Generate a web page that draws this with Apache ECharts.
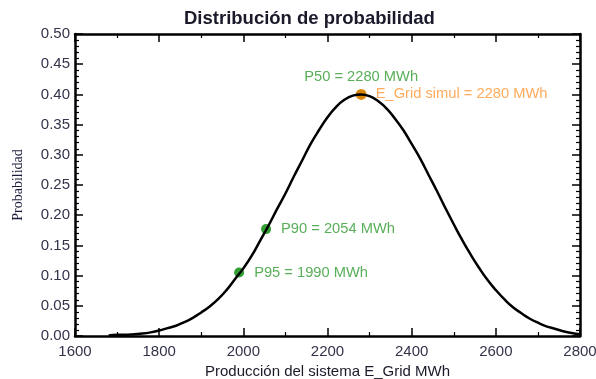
<!DOCTYPE html>
<html>
<head>
<meta charset="utf-8">
<script src="https://cdn.jsdelivr.net/npm/echarts@6/dist/echarts.min.js"></script>
<style>html,body{margin:0;padding:0;background:#fff;}#c{width:596px;height:379px;}</style>
</head>
<body>
<div id="c"></div>
<script>
// Curve
const energy = [1680,1700,1720,1740,1760,1780,1800,1820,1840,1860,1880,1900,1920,1940,1960,1980,2000,2020,2040,2060,2080,2100,2120,2140,2160,2180,2200,2220,2240,2260,2280,2300,2320,2340,2360,2380,2400,2420,2440,2460,2480,2500,2520,2540,2560,2580,2600,2620,2640,2660,2680,2700,2720,2740,2760,2780,2800];
const probability = [0.001,0.002,0.002,0.003,0.004,0.006,0.009,0.013,0.017,0.023,0.030,0.039,0.049,0.061,0.076,0.094,0.112,0.133,0.158,0.183,0.210,0.236,0.264,0.291,0.318,0.341,0.362,0.379,0.391,0.398,0.400,0.397,0.389,0.377,0.360,0.341,0.318,0.294,0.267,0.240,0.212,0.185,0.159,0.135,0.113,0.093,0.076,0.061,0.048,0.038,0.029,0.022,0.016,0.012,0.008,0.005,0.003];
// Marked points
const p95 = [1990, 0.105];
const p90 = [2054, 0.177];
const p50 = [2280, 0.400];
const labelP95 = 'P95 = 1990 MWh';
const labelP90 = 'P90 = 2054 MWh';
const labelP50 = 'P50 = 2280 MWh';
const labelSim = 'E_Grid simul = 2280 MWh';
const xTicks = {min: 1600, max: 2800, interval: 200};
const yTicks = {min: 0, max: 0.5, interval: 0.05};

const chart = echarts.init(document.getElementById('c'), null, {renderer: 'canvas'});
const font = 'Liberation Sans, Arial, sans-serif';
const green = '#2f9a2f';
const greenMark = '#008800';
const orange = '#ff9633';
const orangeMark = '#ff8000';
const tick = {show: true, inside: true, length: 8, lineStyle: {color: '#000', width: 1.5}};
const axLine = {show: true, onZero: false, lineStyle: {color: '#000', width: 2.5}};

chart.setOption({
  animation: false,
  backgroundColor: '#fff',
  title: {
    text: 'Distribución de probabilidad',
    left: 179, top: 4,
    textStyle: {fontFamily: font, fontSize: 18.5, fontWeight: 'bold', color: '#1a1a2a'}
  },
  grid: {left: 75, right: 16, top: 34, bottom: 43, containLabel: false, outerBoundsMode: 'none'},
  xAxis: [{
    type: 'value', position: 'bottom', min: xTicks.min, max: xTicks.max, interval: xTicks.interval,
    axisLine: axLine, axisTick: tick,
    minorTick: {show: true, splitNumber: 2, length: 4, lineStyle: {color: '#000', width: 1.2}},
    splitLine: {show: false},
    axisLabel: {margin: 8, fontFamily: font, fontSize: 15, color: '#33334a', formatter: v => String(v)},
    name: 'Producción del sistema E_Grid MWh', nameLocation: 'middle', nameGap: 25,
    nameTextStyle: {fontFamily: font, fontSize: 15, color: '#1a1a2a'}
  }, {
    type: 'value', position: 'top', min: xTicks.min, max: xTicks.max, interval: xTicks.interval,
    axisLine: axLine, axisTick: tick,
    minorTick: {show: true, splitNumber: 2, length: 4, lineStyle: {color: '#000', width: 1.2}},
    splitLine: {show: false}, axisLabel: {show: false}
  }],
  yAxis: [{
    type: 'value', position: 'left', min: yTicks.min, max: yTicks.max, interval: yTicks.interval,
    axisLine: axLine, axisTick: tick,
    minorTick: {show: true, splitNumber: 5, length: 4, lineStyle: {color: '#000', width: 1.2}},
    splitLine: {show: false},
    axisLabel: {margin: 5, fontFamily: font, fontSize: 15, color: '#33334a', formatter: v => v.toFixed(2)},
    name: 'Probabilidad', nameLocation: 'middle', nameGap: 50,
    nameTextStyle: {fontFamily: 'Liberation Serif, Times New Roman, serif', fontSize: 14, color: '#1a1a3a'}
  }, {
    type: 'value', position: 'right', min: yTicks.min, max: yTicks.max, interval: yTicks.interval,
    axisLine: axLine, axisTick: tick,
    minorTick: {show: true, splitNumber: 5, length: 4, lineStyle: {color: '#000', width: 1.2}},
    splitLine: {show: false}, axisLabel: {show: false}
  }],
  series: [{
    type: 'line', xAxisIndex: 0, yAxisIndex: 0,
    data: energy.map((e, i) => [e, probability[i]]),
    smooth: true, symbol: 'none', clip: false,
    lineStyle: {color: '#000', width: 2.5}
  }, {
    type: 'scatter', symbol: 'circle', symbolSize: 10,
    itemStyle: {color: greenMark},
    data: [
      {value: p95, label: {formatter: labelP95}},
      {value: p90, label: {formatter: labelP90}}
    ],
    label: {show: true, position: 'right', distance: 10, fontFamily: font, fontSize: 14.7, color: green}
  }, {
    type: 'scatter', symbol: 'circle', symbolSize: 10,
    itemStyle: {color: greenMark},
    data: [{value: p50}],
    label: {show: true, position: 'top', distance: 5, formatter: labelP50, fontFamily: font, fontSize: 14.7, color: green}
  }, {
    type: 'scatter', symbol: 'circle', symbolSize: 11,
    itemStyle: {color: orangeMark},
    data: [{value: p50}],
    label: {show: true, position: 'right', distance: 9, formatter: labelSim, fontFamily: font, fontSize: 14.7, color: orange}
  }]
});
</script>
</body>
</html>
